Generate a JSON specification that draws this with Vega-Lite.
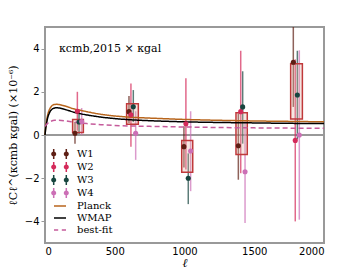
{
  "$schema": "https://vega.github.io/schema/vega-lite/v6.json",
  "width": 279,
  "height": 216,
  "autosize": {"type": "none"},
  "padding": {"left": 45, "top": 27, "right": 36, "bottom": 27},
  "config": {
    "view": {"stroke": "#999999", "strokeWidth": 2},
    "axis": {"domain": false, "tickColor": "#999999", "labelFont": "DejaVu Sans", "labelFontSize": 10, "labelColor": "#000000", "grid": false, "tickSize": 4, "tickWidth": 1}
  },
  "resolve": {"legend": {"color": "independent", "shape": "independent"}},
  "datasets": {
    "pts": [
      {"series": "W1", "ell": 215, "y": 0.08, "lo": -0.4, "hi": 0.6},
      {"series": "W2", "ell": 232, "y": 1.1, "lo": 0.2, "hi": 2.0},
      {"series": "W3", "ell": 244, "y": 0.6, "lo": 0.05, "hi": 1.15},
      {"series": "W4", "ell": 263, "y": 0.62, "lo": 0.0, "hi": 1.25},
      {"series": "W1", "ell": 602, "y": 1.08, "lo": 0.55, "hi": 1.8},
      {"series": "W2", "ell": 616, "y": 0.94, "lo": -0.54, "hi": 2.39},
      {"series": "W3", "ell": 633, "y": 1.31, "lo": 0.6, "hi": 2.08},
      {"series": "W4", "ell": 650, "y": 0.08, "lo": -1.15, "hi": 1.1},
      {"series": "W1", "ell": 996, "y": -0.54, "lo": -1.5, "hi": 0.4},
      {"series": "W2", "ell": 1010, "y": 0.52, "lo": -1.6, "hi": 2.63},
      {"series": "W3", "ell": 1027, "y": -2.0, "lo": -3.2, "hi": -0.85},
      {"series": "W4", "ell": 1044, "y": -0.74, "lo": -2.6, "hi": 1.1},
      {"series": "W1", "ell": 1386, "y": -0.5, "lo": -2.07, "hi": 1.0},
      {"series": "W2", "ell": 1403, "y": 1.08, "lo": -1.77, "hi": 3.9},
      {"series": "W3", "ell": 1417, "y": 1.3, "lo": -0.4, "hi": 2.95},
      {"series": "W4", "ell": 1434, "y": -1.7, "lo": -4.07, "hi": 0.67},
      {"series": "W1", "ell": 1780, "y": 3.37, "lo": 1.3, "hi": 5.4},
      {"series": "W2", "ell": 1794, "y": -0.25, "lo": -4.0, "hi": 3.5},
      {"series": "W3", "ell": 1809, "y": 1.85, "lo": -0.2, "hi": 3.9},
      {"series": "W4", "ell": 1823, "y": 0.0, "lo": -3.92, "hi": 3.92}
    ],
    "boxes": [
      {"ell": 198, "ell2": 275, "lo": 0.12, "hi": 0.72},
      {"ell": 585, "ell2": 669, "lo": 0.5, "hi": 1.45},
      {"ell": 980, "ell2": 1059, "lo": -1.72, "hi": -0.26},
      {"ell": 1369, "ell2": 1450, "lo": -0.9, "hi": 1.03},
      {"ell": 1761, "ell2": 1845, "lo": 0.74, "hi": 3.3}
    ],
    "curves": [
      {"series": "Planck", "ell": 0, "y": 0},
      {"series": "Planck", "ell": 5, "y": 0.35},
      {"series": "Planck", "ell": 10, "y": 0.6},
      {"series": "Planck", "ell": 20, "y": 0.95},
      {"series": "Planck", "ell": 30, "y": 1.15},
      {"series": "Planck", "ell": 45, "y": 1.32},
      {"series": "Planck", "ell": 60, "y": 1.4},
      {"series": "Planck", "ell": 80, "y": 1.42},
      {"series": "Planck", "ell": 100, "y": 1.41},
      {"series": "Planck", "ell": 150, "y": 1.33},
      {"series": "Planck", "ell": 200, "y": 1.22},
      {"series": "Planck", "ell": 250, "y": 1.15},
      {"series": "Planck", "ell": 300, "y": 1.08},
      {"series": "Planck", "ell": 400, "y": 0.96},
      {"series": "Planck", "ell": 500, "y": 0.88},
      {"series": "Planck", "ell": 600, "y": 0.83},
      {"series": "Planck", "ell": 800, "y": 0.77},
      {"series": "Planck", "ell": 1000, "y": 0.72},
      {"series": "Planck", "ell": 1250, "y": 0.68},
      {"series": "Planck", "ell": 1500, "y": 0.65},
      {"series": "Planck", "ell": 1750, "y": 0.63},
      {"series": "Planck", "ell": 2000, "y": 0.61},
      {"series": "WMAP", "ell": 0, "y": 0},
      {"series": "WMAP", "ell": 5, "y": 0.3},
      {"series": "WMAP", "ell": 10, "y": 0.5},
      {"series": "WMAP", "ell": 20, "y": 0.82},
      {"series": "WMAP", "ell": 30, "y": 1.0},
      {"series": "WMAP", "ell": 45, "y": 1.16},
      {"series": "WMAP", "ell": 60, "y": 1.23},
      {"series": "WMAP", "ell": 80, "y": 1.26},
      {"series": "WMAP", "ell": 100, "y": 1.25},
      {"series": "WMAP", "ell": 150, "y": 1.17},
      {"series": "WMAP", "ell": 200, "y": 1.07},
      {"series": "WMAP", "ell": 250, "y": 0.99},
      {"series": "WMAP", "ell": 300, "y": 0.93},
      {"series": "WMAP", "ell": 400, "y": 0.83},
      {"series": "WMAP", "ell": 500, "y": 0.76},
      {"series": "WMAP", "ell": 600, "y": 0.71},
      {"series": "WMAP", "ell": 800, "y": 0.65},
      {"series": "WMAP", "ell": 1000, "y": 0.61},
      {"series": "WMAP", "ell": 1250, "y": 0.58},
      {"series": "WMAP", "ell": 1500, "y": 0.56},
      {"series": "WMAP", "ell": 1750, "y": 0.54},
      {"series": "WMAP", "ell": 2000, "y": 0.53},
      {"series": "best-fit", "ell": 0, "y": 0.4},
      {"series": "best-fit", "ell": 20, "y": 0.55},
      {"series": "best-fit", "ell": 40, "y": 0.63},
      {"series": "best-fit", "ell": 70, "y": 0.68},
      {"series": "best-fit", "ell": 100, "y": 0.68},
      {"series": "best-fit", "ell": 150, "y": 0.65},
      {"series": "best-fit", "ell": 200, "y": 0.6},
      {"series": "best-fit", "ell": 300, "y": 0.53},
      {"series": "best-fit", "ell": 400, "y": 0.48},
      {"series": "best-fit", "ell": 500, "y": 0.44},
      {"series": "best-fit", "ell": 750, "y": 0.4},
      {"series": "best-fit", "ell": 1000, "y": 0.37},
      {"series": "best-fit", "ell": 1500, "y": 0.33},
      {"series": "best-fit", "ell": 2000, "y": 0.31}
    ]
  },
  "layer": [
    {
      "data": {"values": [{"y": 0}]},
      "mark": {"type": "rule", "color": "#999999", "strokeWidth": 2},
      "encoding": {
        "y": {"field": "y", "type": "quantitative", "scale": {"domain": [-5, 5]},
          "axis": {"values": [-4, -2, 0, 2, 4], "title": "ℓCℓ^(κcmb κgal) (×10⁻⁶)", "titleFont": "DejaVu Serif", "titleFontWeight": "normal", "titleFontSize": 11, "titlePadding": 6}}
      }
    },
    {
      "data": {"name": "pts"},
      "mark": {"type": "rule", "strokeWidth": 1.5, "opacity": 0.7, "clip": true},
      "encoding": {
        "x": {"field": "ell", "type": "quantitative", "scale": {"domain": [0, 2000]},
          "axis": {"values": [0, 500, 1000, 1500, 2000], "format": "d", "ticks": false, "labelPadding": 3, "title": "ℓ", "titleFont": "DejaVu Serif", "titleFontStyle": "italic", "titleFontWeight": "normal", "titleFontSize": 12, "titlePadding": 1}},
        "y": {"field": "lo", "type": "quantitative", "title": "ℓCℓ^(κcmb κgal) (×10⁻⁶)"},
        "y2": {"field": "hi"},
        "color": {"field": "series", "type": "nominal", "legend": null}
      }
    },
    {
      "data": {"name": "boxes"},
      "mark": {"type": "rect", "stroke": "#c0393b", "strokeWidth": 1.5, "fill": "#e0b0a0", "fillOpacity": 0.3},
      "encoding": {
        "x": {"field": "ell", "type": "quantitative", "title": "ℓ"},
        "x2": {"field": "ell2"},
        "y": {"field": "lo", "type": "quantitative", "title": "ℓCℓ^(κcmb κgal) (×10⁻⁶)"},
        "y2": {"field": "hi"}
      }
    },
    {
      "data": {"name": "curves"},
      "mark": {"type": "line", "strokeWidth": 1.5, "interpolate": "monotone"},
      "encoding": {
        "x": {"field": "ell", "type": "quantitative", "title": "ℓ"},
        "y": {"field": "y", "type": "quantitative", "title": "ℓCℓ^(κcmb κgal) (×10⁻⁶)"},
        "color": {"field": "series", "type": "nominal", "legend": null},
        "strokeDash": {"field": "series", "type": "nominal", "legend": null,
          "scale": {"domain": ["Planck", "WMAP", "best-fit"], "range": [[1, 0], [1, 0], [5, 3]]}}
      }
    },
    {
      "data": {"name": "pts"},
      "mark": {"type": "point", "filled": true, "size": 26, "opacity": 1},
      "encoding": {
        "x": {"field": "ell", "type": "quantitative", "title": "ℓ"},
        "y": {"field": "y", "type": "quantitative", "title": "ℓCℓ^(κcmb κgal) (×10⁻⁶)"},
        "color": {"field": "series", "type": "nominal",
          "scale": {"domain": ["W1", "W2", "W3", "W4", "Planck", "WMAP", "best-fit"],
            "range": ["#5e1f14", "#d42a5a", "#17453f", "#cc6fb6", "#b8651c", "#000000", "#c55b9b"]},
          "legend": null}
      }
    },
    {
      "data": {"name": "pts"},
      "transform": [{"filter": "false"}],
      "mark": {"type": "point", "filled": true, "opacity": 1},
      "encoding": {
        "x": {"field": "ell", "type": "quantitative", "title": "ℓ"},
        "y": {"field": "y", "type": "quantitative", "title": "ℓCℓ^(κcmb κgal) (×10⁻⁶)"},
        "color": {"field": "series", "type": "nominal",
          "legend": {"orient": "none", "legendX": 8, "legendY": 120, "title": null,
            "symbolSize": 144, "labelFont": "DejaVu Serif", "labelFontSize": 10, "labelOffset": 10, "rowPadding": 0,
            "encode": {"labels": {"fontStyle": {"condition": {"test": "datum.value === 'Planck' || datum.value === 'WMAP'", "value": "italic"}, "value": "normal"}}}}},
        "shape": {"field": "series", "type": "nominal",
          "scale": {"domain": ["W1", "W2", "W3", "W4", "Planck", "WMAP", "best-fit"],
            "range": [
              "M-1.175,-0.85h0.25v1.7h-0.25ZM0.925,-0.85h0.25v1.7h-0.25ZM-1.47,0A0.42,0.42 0 1,1 -0.63,0A0.42,0.42 0 1,1 -1.47,0ZM0.63,0A0.42,0.42 0 1,1 1.47,0A0.42,0.42 0 1,1 0.63,0Z",
              "M-1.175,-0.85h0.25v1.7h-0.25ZM0.925,-0.85h0.25v1.7h-0.25ZM-1.47,0A0.42,0.42 0 1,1 -0.63,0A0.42,0.42 0 1,1 -1.47,0ZM0.63,0A0.42,0.42 0 1,1 1.47,0A0.42,0.42 0 1,1 0.63,0Z",
              "M-1.175,-0.85h0.25v1.7h-0.25ZM0.925,-0.85h0.25v1.7h-0.25ZM-1.47,0A0.42,0.42 0 1,1 -0.63,0A0.42,0.42 0 1,1 -1.47,0ZM0.63,0A0.42,0.42 0 1,1 1.47,0A0.42,0.42 0 1,1 0.63,0Z",
              "M-1.175,-0.85h0.25v1.7h-0.25ZM0.925,-0.85h0.25v1.7h-0.25ZM-1.47,0A0.42,0.42 0 1,1 -0.63,0A0.42,0.42 0 1,1 -1.47,0ZM0.63,0A0.42,0.42 0 1,1 1.47,0A0.42,0.42 0 1,1 0.63,0Z",
              "M-1,-0.125h2v0.25h-2Z",
              "M-1,-0.125h2v0.25h-2Z",
              "M-1,-0.125h0.7v0.25h-0.7ZM0.3,-0.125h0.7v0.25h-0.7Z"
            ]},
          "legend": {"orient": "none", "legendX": 8, "legendY": 120, "title": null,
            "symbolSize": 144, "labelFont": "DejaVu Serif", "labelFontSize": 10, "labelOffset": 10, "rowPadding": 0}}
      }
    },
    {
      "data": {"values": [{"ell": 100, "y": 4, "label": "κcmb,2015 × κgal"}]},
      "mark": {"type": "text", "align": "left", "baseline": "middle", "font": "DejaVu Serif", "fontSize": 11, "color": "#000000"},
      "encoding": {
        "x": {"field": "ell", "type": "quantitative", "title": "ℓ"},
        "y": {"field": "y", "type": "quantitative", "title": "ℓCℓ^(κcmb κgal) (×10⁻⁶)"},
        "text": {"field": "label"}
      }
    }
  ]
}
